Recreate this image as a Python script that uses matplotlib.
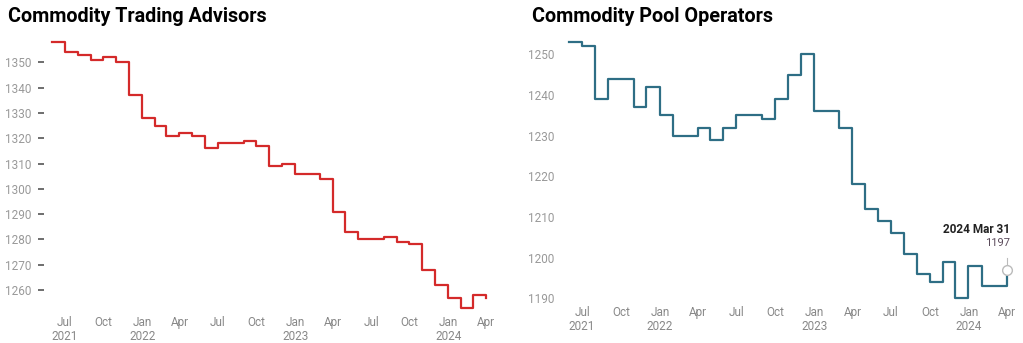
import numpy as np
import pandas as pd
import matplotlib
matplotlib.use('Agg')
import matplotlib.pyplot as plt
import matplotlib.dates as mdates

plt.rcParams['font.family'] = ['Roboto', 'DejaVu Sans']

dates = pd.date_range('2021-05-31', '2024-03-31', freq='ME')

cta = [1358, 1354, 1353, 1351, 1352, 1350, 1337, 1328,
       1325, 1321, 1322, 1321, 1316, 1318, 1318, 1319, 1317, 1309, 1310, 1306,
       1306, 1304, 1291, 1283, 1280, 1280, 1281, 1279, 1278, 1268, 1262, 1257,
       1253, 1258, 1257]

cpo = [1253, 1252, 1239, 1244, 1244, 1237, 1242, 1235,
       1230, 1230, 1232, 1229, 1232, 1235, 1235, 1234, 1239, 1245, 1250, 1236,
       1236, 1232, 1218, 1212, 1209, 1206, 1201, 1196, 1194, 1199, 1190, 1198,
       1193, 1193, 1197]

tick_dates = pd.date_range('2021-07-01', '2024-04-01', freq='QS')
tick_labels = []
for d in tick_dates:
    if d.month == 1:
        tick_labels.append(f"Jan\n{d.year}")
    elif d == tick_dates[0]:
        tick_labels.append(f"Jul\n{d.year}")
    else:
        tick_labels.append(d.strftime('%b'))

W, H = 1023, 343
fig = plt.figure(figsize=(W / 100, H / 100), dpi=100)

d0 = mdates.date2num(dates[0])
d1 = mdates.date2num(dates[-1])


def make_axes(px_left, px_right, px_top, px_bot, x0, x1, y_a, ya_px, y_b, yb_px):
    ax = fig.add_axes([px_left / W, 1 - px_bot / H, (px_right - px_left) / W, (px_bot - px_top) / H])
    # map pixel extents to data limits
    sx = (d1 - d0) / (x1 - x0)
    ax.set_xlim(d0 - (x0 - px_left) * sx, d1 + (px_right - x1) * sx)
    sy = (y_a - y_b) / (yb_px - ya_px)
    ax.set_ylim(y_b - (px_bot - yb_px) * sy, y_a + (ya_px - px_top) * sy)
    for s in ax.spines.values():
        s.set_visible(False)
    ax.set_xticks(mdates.date2num(tick_dates))
    ax.set_xticklabels(tick_labels, linespacing=1.1)
    ax.tick_params(axis='x', length=0, pad=4, labelsize=8.5, labelcolor='#888888')
    return ax


# left chart
ax1 = make_axes(44, 500, 36, 310, 52, 486, 1350, 62.3, 1260, 290)
ax1.step(mdates.date2num(dates), cta, where='post', color='#d42a2a', lw=1.6)
ax1.set_yticks(np.arange(1260, 1351, 10))
ax1.tick_params(axis='y', length=4, width=1.2, color='#555555', pad=5,
                labelsize=8.5, labelcolor='#999999')
fig.text(8 / W, 1 - 17 / H, 'Commodity Trading Advisors', fontsize=14.2,
         fontweight='bold', va='center', ha='left')

# right chart
ax2 = make_axes(560, 1015, 36, 300, 569, 1007, 1250, 54.3, 1190, 298.3)
ax2.step(mdates.date2num(dates), cpo, where='post', color='#2e6e85', lw=1.6)
ax2.set_yticks(np.arange(1190, 1251, 10))
ax2.tick_params(axis='y', length=0, pad=4, labelsize=8.5, labelcolor='#999999')
fig.text(532 / W, 1 - 17 / H, 'Commodity Pool Operators', fontsize=14.2,
         fontweight='bold', va='center', ha='left')

# last point annotation
xl = mdates.date2num(dates[-1])
ax2.plot([xl], [cpo[-1]], 'o', ms=7, mfc='white', mec='#bbbbbb', mew=1, zorder=3)
ax2.plot([xl, xl], [cpo[-1] + 1.0, cpo[-1] + 3.0], color='#bbbbbb', lw=0.8)
ax2.annotate('2024 Mar 31', (xl, cpo[-1]), xytext=(2, 29), textcoords='offset points',
             ha='right', va='center', fontsize=8.5, fontweight='bold', color='#222222')
ax2.annotate(f'{cpo[-1]}', (xl, cpo[-1]), xytext=(2, 19), textcoords='offset points',
             ha='right', va='center', fontsize=8, color='#5a4a5a')

fig.savefig('out.png', dpi=100)
